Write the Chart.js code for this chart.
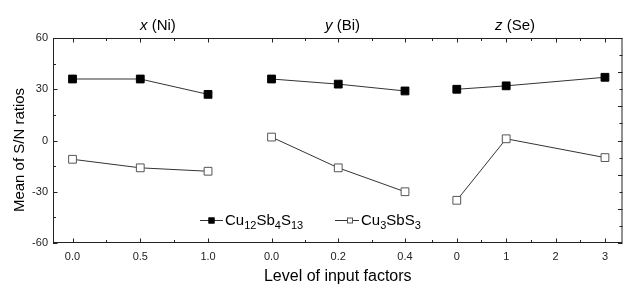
<!DOCTYPE html>
<html>
<head>
<meta charset="utf-8">
<script src="https://cdn.jsdelivr.net/npm/chart.js@4.4.0/dist/chart.umd.min.js"></script>
<style>
  html, body { margin: 0; padding: 0; background: #fff; }
  #wrap { width: 629px; height: 284px; }
</style>
</head>
<body>
<div id="wrap"><canvas id="myChart"></canvas></div>
<script>
// уровни факторов по панелям
const niLevels = [0.0, 0.5, 1.0];
const biLevels = [0.0, 0.2, 0.4];
const seLevels = [0, 1, 3];

// подписи делений
const niTicks = [0.0, 0.5, 1.0];
const biTicks = [0.0, 0.2, 0.4];
const seTicks = [0, 1, 2, 3];
const yTicks = [-60, -30, 0, 30, 60];

// Mean of S/N ratios — Cu12Sb4S13
const tetraNi = [36, 36, 27];
const tetraBi = [36, 33, 29];
const tetraSe = [30, 32, 37];
// Cu3SbS3
const skinNi = [-11, -16, -18];
const skinBi = [2, -16, -30];
const skinSe = [-35, 1, -10];

const panelTitles = [['x', ' (Ni)'], ['y', ' (Bi)'], ['z', ' (Se)']];
const seriesNames = [['Cu', '12', 'Sb', '4', 'S', '13'], ['Cu', '3', 'SbS', '3']];
const xTitle = 'Level of input factors';
const yTitle = 'Mean of S/N ratios';

const FONT = '"Liberation Sans", Arial, sans-serif';

function pts(xs, ys) {
  return xs.map((x, i) => ({ x: x, y: ys[i] }));
}

function makeSet(label, axis, xs, ys, filled) {
  return {
    label: label,
    xAxisID: axis,
    data: pts(xs, ys),
    borderColor: '#333',
    borderWidth: 1,
    pointStyle: 'rect',
    pointRadius: 5.5,
    pointHoverRadius: 5.5,
    pointBorderWidth: 1,
    pointBorderColor: filled ? '#000' : '#555',
    pointBackgroundColor: filled ? '#000' : '#fff',
    fill: false,
    tension: 0
  };
}

function xAxis(weight, min, max, ticks, digits) {
  return {
    type: 'linear',
    position: 'bottom',
    stack: 'panels',
    stackWeight: weight,
    min: min,
    max: max,
    grid: { display: false, drawTicks: false },
    border: { display: false },
    afterBuildTicks: s => { s.ticks = ticks.map(v => ({ value: v })); },
    afterFit: s => { s.height = 41; },
    ticks: {
      autoSkip: false,
      maxRotation: 0,
      padding: 7,
      color: '#222',
      font: { family: FONT, size: 11 },
      callback: v => Number(v).toFixed(digits)
    }
  };
}

// рамка, внутренние засечки, заголовки и легенда
const decor = {
  id: 'decor',
  afterDraw(chart) {
    const ctx = chart.ctx, a = chart.chartArea;
    ctx.save();
    ctx.strokeStyle = '#222';
    ctx.lineWidth = 1;
    ctx.strokeRect(a.left + 0.5, a.top + 0.5, a.right - a.left - 1, a.bottom - a.top - 1);

    ctx.beginPath();
    ['x1', 'x2', 'x3'].forEach(id => {
      const s = chart.scales[id];
      const t = s.ticks.map(k => k.value);
      const step = (t[1] - t[0]) / 2;
      for (let v = Math.ceil(s.min / step) * step; v <= s.max + 1e-9; v += step) {
        const major = Math.abs(Math.round((v - t[0]) / (2 * step)) - (v - t[0]) / (2 * step)) < 1e-6;
        const len = major ? 4.5 : 3;
        const px = Math.round(s.getPixelForValue(v)) + 0.5;
        ctx.moveTo(px, a.bottom); ctx.lineTo(px, a.bottom - len);
        ctx.moveTo(px, a.top); ctx.lineTo(px, a.top + len);
      }
    });
    const y = chart.scales.y;
    for (let v = -60; v <= 60; v += 15) {
      const py = Math.round(y.getPixelForValue(v)) + 0.5;
      const len = v % 30 === 0 ? 4.5 : 3;
      ctx.moveTo(a.left, py); ctx.lineTo(a.left + len, py);
    }
    for (let v = -60; v <= 60; v += 10) {
      const py = Math.round(y.getPixelForValue(v)) + 0.5;
      const len = v % 20 === 0 ? 4.5 : 3;
      ctx.moveTo(a.right, py); ctx.lineTo(a.right - len, py);
    }
    ctx.stroke();

    // заголовки панелей
    ctx.fillStyle = '#000';
    ctx.textBaseline = 'alphabetic';
    const titleX = [140, 325, 495];
    panelTitles.forEach((p, i) => {
      ctx.font = 'italic 15px ' + FONT;
      ctx.fillText(p[0], titleX[i], 30);
      const w = ctx.measureText(p[0]).width;
      ctx.font = '15px ' + FONT;
      ctx.fillText(p[1], titleX[i] + w, 30);
    });

    // подписи осей
    ctx.font = '16px ' + FONT;
    ctx.textAlign = 'center';
    ctx.fillText(xTitle, (a.left + a.right) / 2, 281);
    ctx.save();
    ctx.translate(24, 150);
    ctx.rotate(-Math.PI / 2);
    ctx.font = '15px ' + FONT;
    ctx.fillText(yTitle, 0, 0);
    ctx.restore();
    ctx.textAlign = 'left';

    // легенда
    const ly = 220;
    const items = [
      { x0: 200, x1: 223, mx: 211.5, tx: 225, filled: true },
      { x0: 335, x1: 359, mx: 350, tx: 361, filled: false }
    ];
    items.forEach((it, i) => {
      ctx.strokeStyle = '#333';
      ctx.beginPath();
      ctx.moveTo(it.x0, ly + 0.5); ctx.lineTo(it.x1, ly + 0.5);
      ctx.stroke();
      ctx.fillStyle = it.filled ? '#000' : '#fff';
      ctx.fillRect(it.mx - 3, ly - 2.5, 6, 6);
      ctx.strokeStyle = it.filled ? '#000' : '#555';
      ctx.strokeRect(it.mx - 3 + 0.5, ly - 2.5 + 0.5, 5, 5);
      ctx.fillStyle = '#000';
      let x = it.tx;
      seriesNames[i].forEach((part, j) => {
        const sub = j % 2 === 1;
        ctx.font = (sub ? '11px ' : '15px ') + FONT;
        ctx.fillText(part, x, sub ? ly + 9 : ly + 5);
        x += ctx.measureText(part).width;
      });
    });
    ctx.restore();
  }
};

const ctx = document.getElementById('myChart').getContext('2d');
new Chart(ctx, {
  type: 'line',
  data: {
    datasets: [
      makeSet('Cu12Sb4S13', 'x1', niLevels, tetraNi, true),
      makeSet('Cu3SbS3', 'x1', niLevels, skinNi, false),
      makeSet('Cu12Sb4S13', 'x2', biLevels, tetraBi, true),
      makeSet('Cu3SbS3', 'x2', biLevels, skinBi, false),
      makeSet('Cu12Sb4S13', 'x3', seLevels, tetraSe, true),
      makeSet('Cu3SbS3', 'x3', seLevels, skinSe, false)
    ]
  },
  options: {
    responsive: true,
    maintainAspectRatio: false,
    animation: false,
    layout: { padding: { top: 38, right: 2, left: 0, bottom: 0 } },
    plugins: { legend: { display: false }, tooltip: { enabled: false } },
    scales: {
      x1: xAxis(190, -0.144, 1.247, niTicks, 1),
      x2: xAxis(191, -0.090, 0.478, biTicks, 1),
      x3: xAxis(193, -0.522, 3.355, seTicks, 0),
      y: {
        type: 'linear',
        position: 'left',
        min: -60,
        max: 60,
        grid: { display: false, drawTicks: false },
        border: { display: false },
        afterBuildTicks: s => { s.ticks = yTicks.map(v => ({ value: v })); },
        afterFit: s => { s.width = 53; },
        ticks: {
          padding: 5,
          color: '#222',
          font: { family: FONT, size: 11 }
        }
      }
    }
  },
  plugins: [decor]
});
</script>
</body>
</html>
